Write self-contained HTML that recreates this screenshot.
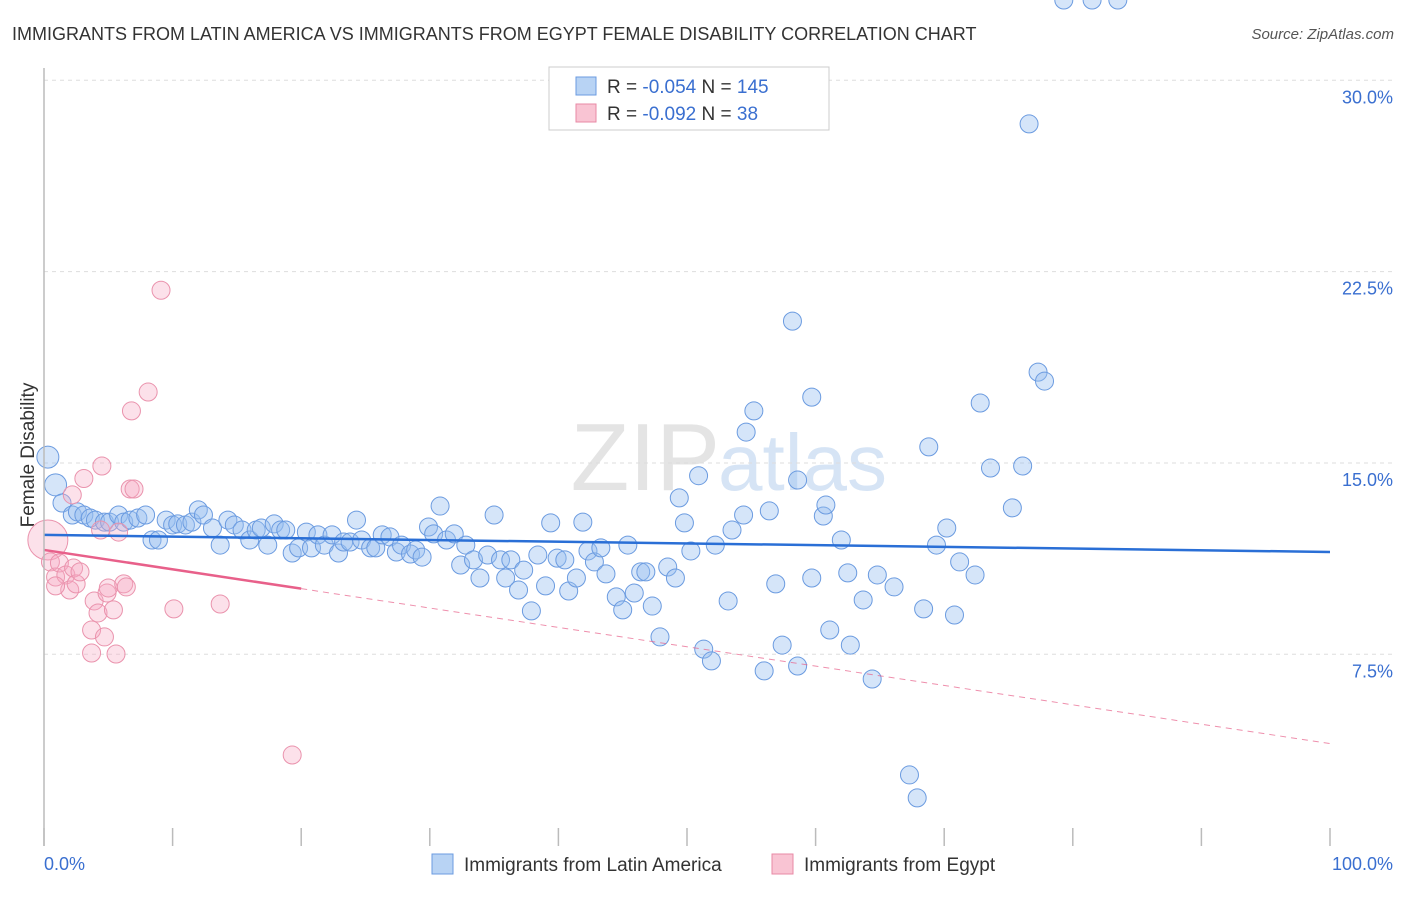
<!DOCTYPE html>
<html><head><meta charset="utf-8"><style>
body{margin:0;background:#fff;font-family:"Liberation Sans",sans-serif;}
svg text{font-family:"Liberation Sans",sans-serif;}
</style></head><body>
<svg id="chart" width="1406" height="892" viewBox="0 0 1406 892" xmlns="http://www.w3.org/2000/svg">
<text x="12" y="40" font-size="18" fill="#333">IMMIGRANTS FROM LATIN AMERICA VS IMMIGRANTS FROM EGYPT FEMALE DISABILITY CORRELATION CHART</text>
<text x="1394" y="39" font-size="15" fill="#555" font-style="italic" text-anchor="end">Source: ZipAtlas.com</text>
<text x="720" y="490" font-size="96" fill="#e4e4e4" text-anchor="end" font-family="Liberation Serif">ZIP</text>
<text x="718" y="490" font-size="80" fill="#d6e4f5">atlas</text>
<text transform="translate(34,455) rotate(-90)" font-size="19" fill="#333" text-anchor="middle">Female Disability</text>
<g id="grid"></g><g id="ticks"></g><g id="pts"></g><g id="trend"></g>
<line x1="44" y1="68" x2="44" y2="846" stroke="#bbb" stroke-width="1.5"/>
<text x="44" y="870" font-size="18" fill="#3a6fd0">0.0%</text>
<text x="1393" y="870" font-size="18" fill="#3a6fd0" text-anchor="end">100.0%</text>
<g>
<rect x="549" y="67" width="280" height="63" fill="#fff" stroke="#ccc"/>
<rect x="576" y="77" width="20" height="18" fill="#b8d3f4" stroke="#6b9be0"/>
<rect x="576" y="104" width="20" height="18" fill="#f9c4d3" stroke="#e88aa6"/>
<text x="607" y="93" font-size="19" fill="#333">R = <tspan fill="#3a6fd0">-0.054</tspan>   N = <tspan fill="#3a6fd0">145</tspan></text>
<text x="607" y="120" font-size="19" fill="#333">R = <tspan fill="#3a6fd0">-0.092</tspan>   N =   <tspan fill="#3a6fd0">38</tspan></text>
</g>
<g>
<rect x="432" y="854" width="21" height="20" fill="#b8d3f4" stroke="#6b9be0"/>
<text x="464" y="871" font-size="19" fill="#333">Immigrants from Latin America</text>
<rect x="772" y="854" width="21" height="20" fill="#f9c4d3" stroke="#e88aa6"/>
<text x="804" y="871" font-size="19" fill="#333">Immigrants from Egypt</text>
</g>
</svg>
<script>
const yTicks=[7.5,15,22.5,30];
const yTickLabels=["7.5%","15.0%","22.5%","30.0%"];
const xTicks=[0,10,20,30,40,50,60,70,80,90,100];
const blueX=[0.3,0.9,1.4,2.2,2.6,3.1,3.6,4.0,4.7,5.1,5.8,6.2,6.7,7.3,7.9,8.4,8.9,9.5,10.0,10.4,11.0,11.5,12.0,12.4,13.1,13.7,14.3,14.8,15.4,16.0,16.5,16.9,17.4,17.9,18.4,18.8,19.3,19.8,20.4,20.8,21.3,21.8,22.4,22.9,23.3,23.8,24.3,24.7,25.4,25.8,26.3,26.9,27.4,27.8,28.5,28.9,29.4,29.9,30.3,30.8,31.3,31.9,32.4,32.8,33.4,33.9,34.5,35.0,35.5,35.9,36.3,36.9,37.3,37.9,38.4,39.0,39.4,39.9,40.5,40.8,41.4,41.9,42.3,42.8,43.3,43.7,44.5,45.0,45.4,45.9,46.4,46.8,47.3,47.9,48.5,49.1,49.4,49.8,50.3,50.9,51.3,51.9,52.2,53.2,53.5,54.4,54.6,55.2,56.0,56.4,56.9,57.4,58.2,58.6,58.6,59.7,59.7,60.6,60.8,61.1,62.0,62.5,62.7,63.7,64.4,64.8,66.1,67.3,67.9,68.4,68.8,69.4,70.2,70.8,71.2,72.4,72.8,73.6,75.3,76.1,76.6,77.3,77.8,79.3,81.5,83.5];
const blueY=[15.23,14.14,13.43,12.96,13.08,12.96,12.84,12.76,12.68,12.68,12.96,12.68,12.76,12.84,12.96,11.98,11.98,12.76,12.57,12.61,12.57,12.68,13.16,12.96,12.45,11.78,12.76,12.57,12.37,11.98,12.37,12.45,11.78,12.61,12.37,12.37,11.47,11.67,12.29,11.67,12.18,11.78,12.18,11.47,11.90,11.90,12.76,11.98,11.67,11.67,12.18,12.10,11.51,11.78,11.43,11.59,11.31,12.49,12.22,13.31,11.98,12.22,11.00,11.78,11.20,10.49,11.39,12.96,11.20,10.49,11.20,10.02,10.80,9.20,11.39,10.18,12.65,11.27,11.20,9.98,10.49,12.68,11.55,11.12,11.67,10.65,9.75,9.24,11.78,9.90,10.73,10.73,9.39,8.18,10.92,10.49,13.63,12.65,11.55,14.50,7.70,7.24,11.78,9.59,12.37,12.96,16.21,17.04,6.85,13.12,10.26,7.86,20.56,14.33,7.04,17.58,10.49,12.92,13.35,8.45,11.98,10.69,7.86,9.63,6.53,10.61,10.14,2.77,1.87,9.28,15.63,11.78,12.45,9.04,11.12,10.61,17.35,14.80,13.24,14.88,28.29,18.56,18.21];
const pinkX=[0.3,0.5,0.9,1.2,1.7,2.0,0.9,2.2,2.3,2.5,2.8,3.1,3.7,3.7,3.9,4.2,4.4,4.5,4.7,4.9,5.0,5.4,5.6,5.8,6.2,6.4,6.7,6.8,7.0,8.1,9.1,10.1,13.7,19.3];
const pinkY=[11.98,11.12,10.53,11.08,10.61,10.02,10.18,13.75,10.88,10.26,10.73,14.39,8.45,7.55,9.59,9.12,12.37,14.88,8.18,9.90,10.10,9.24,7.51,12.29,10.26,10.14,13.98,17.04,13.98,17.78,21.77,9.28,9.47,3.55];
const blueTrend=[12.18,11.51];
const pinkTrend=[11.59,4.0];
const pinkSolidEnd=20;
const X=v=>44+v*12.86, Y=v=>845.6-v*25.51;
const NS="http://www.w3.org/2000/svg";
const mk=(p,t,a)=>{const e=document.createElementNS(NS,t);for(const k in a)e.setAttribute(k,a[k]);document.getElementById(p).appendChild(e);return e;};
yTicks.forEach((t,i)=>{
 const l=mk('grid','line',{x1:44,x2:1393,y1:Y(t),y2:Y(t),stroke:'#ddd','stroke-dasharray':'4,4'});
 
 
 const tx=mk('grid','text',{x:1393,y:Y(t)+23,'font-size':18,fill:'#3a6fd0','text-anchor':'end'});
 tx.textContent=yTickLabels[i];
 
 
});
xTicks.forEach(t=>{
 const l=mk('ticks','line',{x1:X(t),x2:X(t),y1:828,y2:846,stroke:'#bbb','stroke-width':1.5});
 
 
});
blueX.forEach((x,i)=>{
 const c=mk('pts','circle',{cx:X(x),cy:Y(blueY[i]),r:i<2?11:9,fill:'rgba(150,190,240,0.4)',stroke:'#6b9be0','stroke-width':1});
 
 
});
pinkX.forEach((x,i)=>{
 const c=mk('pts','circle',{cx:X(x),cy:Y(pinkY[i]),r:i==0?20:9,fill:'rgba(246,170,195,0.35)',stroke:'#ea93ad','stroke-width':1});
 
 
});
const bt=mk('trend','line',{x1:X(0),y1:Y(blueTrend[0]),x2:X(100),y2:Y(blueTrend[1]),stroke:'#2a6fd6','stroke-width':2.5});


const pv=x=>pinkTrend[0]+(pinkTrend[1]-pinkTrend[0])*x/100;
const ps=mk('trend','line',{x1:X(0),y1:Y(pv(0)),x2:X(pinkSolidEnd),y2:Y(pv(pinkSolidEnd)),stroke:'#e8608a','stroke-width':2.5});


const pd=mk('trend','line',{x1:X(pinkSolidEnd),y1:Y(pv(pinkSolidEnd)),x2:X(100),y2:Y(pv(100)),stroke:'#e8608a','stroke-width':1,'stroke-dasharray':'6,5','opacity':0.7});


</script>
</body></html>
